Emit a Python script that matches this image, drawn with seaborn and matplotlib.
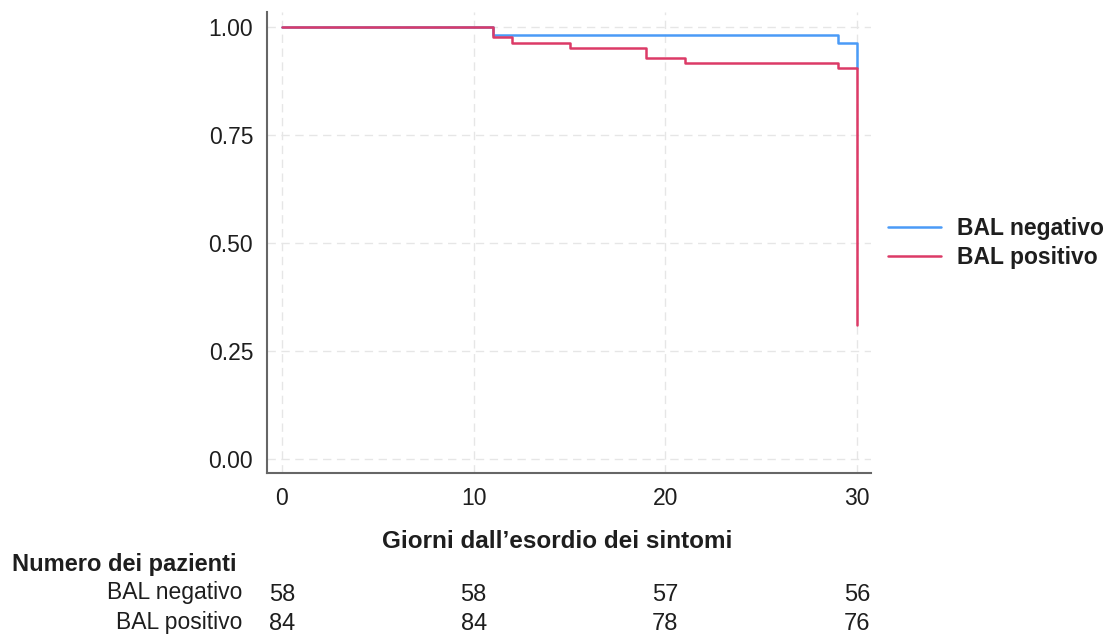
import matplotlib
matplotlib.use("Agg")
import matplotlib.pyplot as plt
import matplotlib.transforms as mtransforms
import pandas as pd
import seaborn as sns

# Kaplan-Meier step values
giorni_neg = [0, 11, 29, 30]
surv_neg = [1.0, 0.982, 0.964, 0.906]
giorni_pos = [0, 11, 12, 15, 19, 21, 29, 30]
surv_pos = [1.0, 0.976, 0.964, 0.952, 0.929, 0.917, 0.905, 0.31]

gruppi = ["BAL negativo", "BAL positivo"]
colori = ["#4A9BF7", "#DC3A67"]

# numbers at risk
tempi_rischio = [0, 10, 20, 30]
rischio_neg = [58, 58, 57, 56]
rischio_pos = [84, 84, 78, 76]

df = pd.concat([
    pd.DataFrame({"giorni": giorni_neg, "surv": surv_neg, "gruppo": gruppi[0]}),
    pd.DataFrame({"giorni": giorni_pos, "surv": surv_pos, "gruppo": gruppi[1]}),
])

sns.set_style("white")
plt.rcParams["font.family"] = ["Liberation Sans", "DejaVu Sans"]

fig = plt.figure(figsize=(11.14, 6.35), dpi=100)
ax = fig.add_axes([0.2397, 0.2551, 0.5426, 0.726])

for g, c in zip(gruppi, colori):
    sub = df[df["gruppo"] == g]
    sns.lineplot(data=sub, x="giorni", y="surv", ax=ax, color=c, lw=1.8,
                 drawstyle="steps-post", estimator=None, sort=False, label=g)

ax.set_xlim(-0.78, 30.75)
ax.set_ylim(-0.032, 1.035)
ax.set_xticks(tempi_rischio)
ax.set_yticks([0, 0.25, 0.5, 0.75, 1.0])
ax.set_yticklabels(["0.00", "0.25", "0.50", "0.75", "1.00"])
ax.grid(True, color="#e6e6e6", linestyle=(0, (6, 4)), lw=1.0)
ax.set_axisbelow(True)

for s in ["top", "right"]:
    ax.spines[s].set_visible(False)
for s in ["left", "bottom"]:
    ax.spines[s].set_color("#666666")
    ax.spines[s].set_linewidth(1.5)
ax.tick_params(direction="out", length=6, width=1.3, color="#666666",
               labelsize=16.5, labelcolor="#1e1e1e", pad=4)

ax.set_xlabel("")
ax.set_ylabel("")
fig.text(557 / 1114, 1 - 542 / 635, "Giorni dall\u2019esordio dei sintomi", ha="center",
         va="center", fontsize=17.5, fontweight="bold", color="#1e1e1e")

leg = ax.legend(loc="center left", bbox_to_anchor=(888 / 1114, 1 - 243 / 635),
                bbox_transform=fig.transFigure, frameon=False,
                handlelength=2.3, handletextpad=0.7, labelspacing=0.3,
                borderpad=0, borderaxespad=0,
                prop={"weight": "bold", "size": 16.5})
for t in leg.get_texts():
    t.set_color("#1e1e1e")

# at-risk table
fig.text(12 / 1114, 1 - 565 / 635, "Numero dei pazienti", ha="left", va="center",
         fontsize=17, fontweight="bold", color="#1e1e1e")
trans = mtransforms.blended_transform_factory(ax.transData, fig.transFigure)
for nome, valori, yy in [(gruppi[0], rischio_neg, 593), (gruppi[1], rischio_pos, 622)]:
    fig.text(242 / 1114, 1 - yy / 635, nome, ha="right", va="center",
             fontsize=16.5, color="#1e1e1e")
    for t, v in zip(tempi_rischio, valori):
        ax.text(t, 1 - (yy + 2) / 635, str(v), transform=trans, ha="center",
                va="center", fontsize=17, color="#1e1e1e")

fig.savefig("out.png", dpi=100)
